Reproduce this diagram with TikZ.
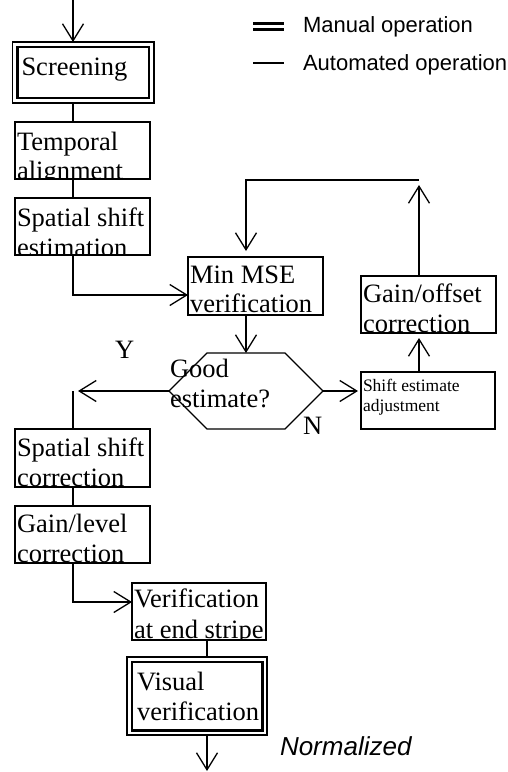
\documentclass[tikz,border=0pt]{standalone}
\usepackage{fontspec}
\setmainfont{Liberation Serif}
\newfontfamily\sansf{Liberation Sans}
\usetikzlibrary{arrows.meta,calc}
\begin{document}
\begin{tikzpicture}[x=1pt,y=-1pt, line width=1.3pt,
  box/.style={draw, rectangle, inner sep=0pt, outer sep=0pt},
  dbox/.style={box, line width=1.6pt},
  txt/.style={inner sep=0pt, outer sep=0pt, anchor=base west, font=\fontsize{26.5}{29}\selectfont},
  smalltxt/.style={txt, font=\fontsize{17.5}{19}\selectfont},
  legtxt/.style={inner sep=0pt, outer sep=0pt, anchor=base west, font=\sansf\fontsize{22}{24}\selectfont},
  normtxt/.style={inner sep=0pt, outer sep=0pt, anchor=base west, font=\sansf\itshape\fontsize{26}{28}\selectfont},
  arr/.style={-{Straight Barb[length=17pt,width=21pt]}}]
\useasboundingbox (0,0) rectangle (507,772);

% column coordinates
\coordinate (colL) at (73,0);
\coordinate (colM) at (246,0);
\coordinate (colR) at (419,0);
\coordinate (colB) at (207,0);

% legend
\coordinate (lg1a) at (253,23.5); \coordinate (lg1b) at (284,23.5);
\coordinate (lg2a) at (253,29.5); \coordinate (lg2b) at (284,29.5);
\coordinate (lg3a) at (253,63);   \coordinate (lg3b) at (284,63);
\draw[line width=2.4pt] (lg1a) -- (lg1b);
\draw[line width=2.4pt] (lg2a) -- (lg2b);
\draw[line width=1.4pt] (lg3a) -- (lg3b);
\node[legtxt] (legM) at (303,32) {Manual operation};
\node[legtxt] (legA) at (303,70) {Automated operation};

% boxes
\node[dbox, minimum width=141.5pt, minimum height=61pt] (scr) at (83.25,72.5) {};
\draw[line width=2.6pt] ($(scr.north west)+(5,5)$) rectangle ($(scr.south east)+(-5,-5)$);
\node[txt] (scrT) at ($(scr.north west)+(9,33)$) {Screening};

\node[box, minimum width=135pt, minimum height=57pt] (tmp) at (82.5,150.5) {};
\begin{scope}
\clip (tmp.north west) rectangle (tmp.south east);
\node[txt] (tmp1) at ($(tmp.north west)+(2,28)$) {Temporal};
\node[txt] (tmp2) at ($(tmp.north west)+(2,57)$) {alignment};
\end{scope}

\node[box, minimum width=135pt, minimum height=57pt] (sse) at (82.5,226.5) {};
\begin{scope}
\clip (sse.north west) rectangle (sse.south east);
\node[txt] (sse1) at ($(sse.north west)+(2,28.5)$) {Spatial shift};
\node[txt] (sse2) at ($(sse.north west)+(2,58)$) {estimation};
\end{scope}

\node[box, minimum width=135pt, minimum height=58pt] (mse) at (255.5,286) {};
\begin{scope}
\clip (mse.north west) rectangle (mse.south east);
\node[txt] (mse1) at ($(mse.north west)+(2,26)$) {Min MSE};
\node[txt] (mse2) at ($(mse.north west)+(2,55)$) {verification};
\end{scope}

\node[box, minimum width=135pt, minimum height=57pt] (gof) at (428.5,304.5) {};
\begin{scope}
\clip (gof.north west) rectangle (gof.south east);
\node[txt] (gof1) at ($(gof.north west)+(2,26)$) {Gain/offset};
\node[txt] (gof2) at ($(gof.north west)+(2,56)$) {correction};
\end{scope}

\node[box, minimum width=134pt, minimum height=57pt] (sea) at (428,400.5) {};
\node[smalltxt] (sea1) at ($(sea.north west)+(2,19)$) {Shift estimate};
\node[smalltxt] (sea2) at ($(sea.north west)+(2,39)$) {adjustment};

\node[box, minimum width=135pt, minimum height=58pt] (ssc) at (82.5,458) {};
\begin{scope}
\clip (ssc.north west) rectangle (ssc.south east);
\node[txt] (ssc1) at ($(ssc.north west)+(2,27)$) {Spatial shift};
\node[txt] (ssc2) at ($(ssc.north west)+(2,57)$) {correction};
\end{scope}

\node[box, minimum width=135pt, minimum height=57pt] (glc) at (82.5,534.5) {};
\begin{scope}
\clip (glc.north west) rectangle (glc.south east);
\node[txt] (glc1) at ($(glc.north west)+(2,26)$) {Gain/level};
\node[txt] (glc2) at ($(glc.north west)+(2,56)$) {correction};
\end{scope}

\node[box, minimum width=134pt, minimum height=57pt] (ver) at (199,611.5) {};
\begin{scope}
\clip (ver.north west) rectangle (ver.south east);
\node[txt] (ver1) at ($(ver.north west)+(2,24)$) {Verification};
\node[txt] (ver2) at ($(ver.north west)+(2,55)$) {at end stripe};
\end{scope}

\node[dbox, minimum width=140pt, minimum height=78pt] (vis) at (197,696) {};
\draw[line width=2.6pt] ($(vis.north west)+(5,5)$) rectangle ($(vis.south east)+(-4.5,-4.5)$);
\node[txt] (vis1) at ($(vis.north west)+(10,33)$) {Visual};
\node[txt] (vis2) at ($(vis.north west)+(10,63)$) {verification};

% decision hexagon
\coordinate (hexL) at (169,391);
\coordinate (hexTL) at (207,353);
\coordinate (hexTR) at (285,353);
\coordinate (hexR) at (323,391);
\coordinate (hexBR) at (285,429);
\coordinate (hexBL) at (207,429);
\coordinate (hexT) at (246,353);
\draw (hexL) -- (hexTL) -- (hexTR) -- (hexR) -- (hexBR) -- (hexBL) -- cycle;
\node[txt] (hex1) at ($(hexL)+(1,-14)$) {Good};
\node[txt] (hex2) at ($(hexL)+(1,16)$) {estimate?};
\node[txt] (lblY) at (115,358) {Y};
\node[txt] (lblN) at (303,434) {N};

\node[normtxt] (norm) at (280,755) {Normalized};

% connectors
\coordinate (start) at (73,0);
\coordinate (endpt) at (207,771);
\coordinate (j1) at (73,295);
\coordinate (j2) at (73,602);
\coordinate (yL) at (73,391);
\coordinate (loopR) at (419,180);
\coordinate (loopL) at (246,180);

\draw[arr] (start) -- (scr.north -| colL);
\draw (scr.south -| colL) -- (tmp.north -| colL);
\draw (tmp.south -| colL) -- (sse.north -| colL);
\draw[arr] (sse.south -| colL) -- (j1) -- (j1 -| mse.west);
\draw[arr] (mse.south -| colM) -- (hexT);
\draw[arr, shorten >=3pt] (hexR) -- (hexR -| sea.west);
\draw[arr, shorten >=5pt] (sea.north -| colR) -- (gof.south -| colR);
\draw[arr, shorten >=5pt] (gof.north -| colR) -- (loopR);
\draw[arr, shorten >=6pt] (loopR) -- (loopL) -- (mse.north -| colM);
\draw[arr, shorten >=5pt] (hexL) -- (yL);
\draw (yL) -- (ssc.north -| colL);
\draw (ssc.south -| colL) -- (glc.north -| colL);
\draw[arr] (glc.south -| colL) -- (j2) -- (j2 -| ver.west);
\draw (ver.south -| colB) -- (vis.north -| colB);
\draw[arr] (vis.south -| colB) -- (endpt);
\end{tikzpicture}
\end{document}
